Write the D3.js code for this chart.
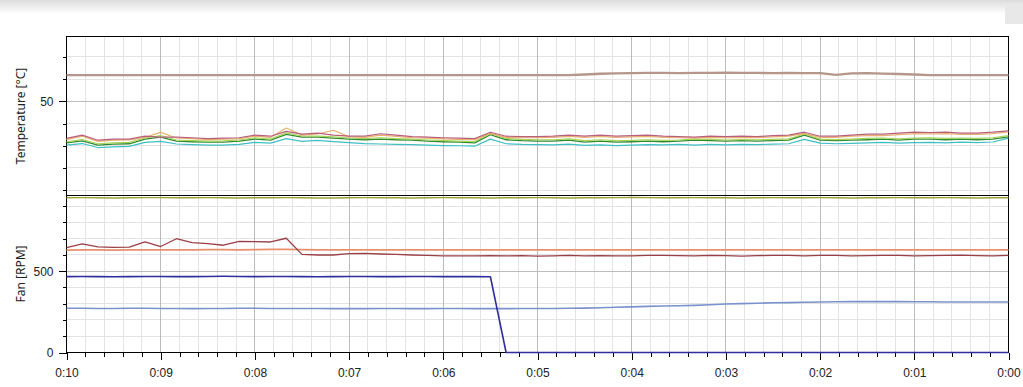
<!DOCTYPE html>
<html lang="en">
<head>
<meta charset="UTF-8">
<title>Temperature / Fan</title>
<script src="https://cdn.jsdelivr.net/npm/d3@7"></script>
<style>
    body { margin: 0; background: #fff; }
    svg { display: block; font-family: "Noto Sans", "DejaVu Sans", sans-serif; }
    .grid line { stroke: #e3e3e3; shape-rendering: crispEdges; }
    .grid line.major { stroke: #bcbcbc; }
    .tick line { stroke: #000; shape-rendering: crispEdges; }
    .tick text { fill: #222; font-size: 12px; }
    .frame { stroke: #000; fill: none; shape-rendering: crispEdges; }
    .title { fill: #222; font-size: 12px; }
</style>
</head>
<body>
<script>
// sample times, seconds before now (every 10 s over the last 10 minutes)
var secondsAgo = d3.range(600, -10, -10);
var timeLabels = ["0:10", "0:09", "0:08", "0:07", "0:06", "0:05", "0:04", "0:03", "0:02", "0:01", "0:00"];

// temperatures [°C]
var tempBrown = [61.8, 61.8, 61.8, 61.8, 61.8, 61.8, 61.8, 61.8, 61.8, 61.8,
    61.8, 61.8, 61.8, 61.8, 61.8, 61.8, 61.8, 61.8, 61.8, 61.8,
    61.8, 61.8, 61.8, 61.8, 61.8, 61.8, 61.8, 61.8, 61.8, 61.8,
    61.8, 61.8, 61.8, 62.1, 62.4, 62.6, 62.7, 62.8, 62.8, 62.7,
    62.8, 62.8, 62.9, 62.8, 62.8, 62.7, 62.8, 62.7, 62.7, 61.9,
    62.6, 62.7, 62.5, 62.3, 62.1, 61.8, 61.8, 61.8, 61.8, 61.8, 61.8];
var tempPink = [33.3, 34.8, 32.5, 33.0, 33.0, 34.3, 33.9, 33.9, 33.6, 33.2,
    33.4, 33.6, 34.8, 34.3, 36.5, 35.2, 35.7, 34.8, 34.3, 34.3,
    35.4, 34.8, 34.1, 33.9, 33.6, 33.4, 33.2, 36.1, 34.3, 34.1,
    34.1, 34.3, 34.8, 34.3, 34.8, 34.3, 34.6, 34.8, 34.3, 34.1,
    33.9, 34.3, 34.1, 34.3, 34.1, 34.6, 34.8, 36.1, 34.3, 34.3,
    34.8, 35.2, 35.2, 35.7, 36.1, 35.9, 36.1, 35.7, 35.7, 36.1, 36.7];
var tempOrange = [32.8, 34.3, 32.0, 32.5, 32.6, 33.8, 36.0, 33.5, 33.2, 32.8,
    33.0, 33.2, 34.3, 33.8, 38.0, 34.8, 35.3, 37.0, 34.0, 33.8,
    34.8, 34.2, 33.6, 33.4, 33.1, 32.9, 32.7, 35.6, 33.8, 33.6,
    33.6, 33.8, 34.2, 33.8, 34.2, 33.8, 34.0, 34.2, 33.8, 33.6,
    33.4, 33.8, 33.6, 33.8, 33.6, 34.0, 34.3, 35.6, 33.8, 33.8,
    34.3, 34.6, 34.6, 35.0, 35.5, 35.3, 35.5, 35.1, 35.1, 35.5, 36.2];
var tempLime = [31.8, 32.8, 30.9, 31.3, 31.5, 33.5, 34.6, 32.6, 32.3, 32.1,
    32.2, 32.6, 33.6, 33.0, 35.8, 34.4, 34.3, 34.0, 33.5, 33.2,
    33.6, 33.2, 33.0, 32.6, 32.3, 32.1, 31.9, 35.4, 33.3, 32.9,
    32.7, 32.7, 33.1, 32.3, 32.7, 32.3, 32.4, 32.7, 32.4, 32.6,
    33.0, 32.9, 32.6, 32.8, 32.7, 32.9, 33.1, 35.3, 33.0, 32.8,
    33.0, 33.3, 33.5, 33.1, 33.5, 33.6, 33.3, 33.5, 33.3, 33.6, 34.6];
var tempGreen = [31.3, 32.2, 30.3, 30.7, 30.9, 33.0, 33.9, 32.1, 31.8, 31.6,
    31.6, 32.1, 33.0, 32.5, 35.1, 33.9, 33.9, 33.4, 33.0, 32.7,
    33.0, 32.7, 32.5, 32.1, 31.8, 31.6, 31.3, 35.0, 32.7, 32.3,
    32.1, 32.1, 32.5, 31.6, 32.1, 31.6, 31.8, 32.1, 31.8, 32.1,
    32.5, 32.3, 32.1, 32.3, 32.1, 32.3, 32.5, 34.8, 32.5, 32.3,
    32.5, 32.7, 33.0, 32.5, 33.0, 33.0, 32.7, 33.0, 32.7, 33.0, 34.0];
var tempTeal = [30.3, 31.0, 29.2, 29.5, 29.7, 31.5, 32.0, 30.8, 30.5, 30.3,
    30.3, 30.6, 31.5, 31.2, 33.2, 32.0, 32.4, 31.9, 31.4, 31.0,
    30.8, 30.6, 30.5, 30.3, 30.1, 30.0, 29.8, 33.0, 30.9, 30.6,
    30.5, 30.4, 30.7, 30.2, 30.4, 30.1, 30.3, 30.5, 30.4, 30.6,
    30.3, 30.6, 30.4, 30.6, 30.5, 30.7, 30.9, 32.9, 31.2, 30.9,
    31.1, 31.3, 31.5, 31.2, 31.4, 31.5, 31.3, 31.6, 31.4, 31.7, 33.4];

// fans [RPM]
var fanOlive = [952, 953, 952, 951, 952, 953, 953, 952, 952, 953,
    952, 951, 952, 952, 953, 952, 951, 951, 952, 953,
    952, 952, 951, 952, 953, 952, 952, 951, 952, 952,
    953, 952, 951, 952, 952, 953, 954, 953, 952, 952,
    953, 952, 952, 951, 952, 953, 952, 952, 953, 952,
    951, 952, 952, 953, 952, 952, 953, 952, 951, 952, 952];
var fanOrange = [630, 631, 631, 630, 631, 632, 632, 631, 632, 633,
    633, 632, 633, 634, 634, 633, 632, 632, 632, 631,
    632, 632, 631, 631, 632, 631, 632, 632, 631, 631,
    632, 632, 631, 632, 632, 631, 632, 632, 631, 631,
    632, 632, 631, 632, 632, 631, 632, 631, 631, 632,
    632, 631, 631, 632, 632, 631, 632, 631, 632, 631, 631];
var fanMaroon = [645, 668, 650, 647, 648, 680, 652, 700, 676, 670,
    660, 684, 682, 680, 703, 604, 600, 600, 608, 610,
    606, 604, 600, 597, 595, 594, 595, 596, 594, 596,
    593, 595, 597, 594, 596, 595, 594, 597, 598, 596,
    595, 598, 596, 593, 596, 598, 597, 595, 598, 597,
    594, 596, 598, 597, 594, 596, 598, 599, 596, 595, 597];
var fanNavy = [467, 468, 467, 466, 467, 468, 468, 467, 467, 468,
    469, 468, 467, 468, 468, 467, 466, 467, 468, 468,
    467, 467, 468, 468, 467, 467, 468, 466, 0, 0,
    0, 0, 0, 0, 0, 0, 0, 0, 0, 0,
    0, 0, 0, 0, 0, 0, 0, 0, 0, 0,
    0, 0, 0, 0, 0, 0, 0, 0, 0, 0, 0];
var fanSteel = [272, 272, 271, 271, 272, 272, 271, 271, 270, 271,
    271, 272, 272, 271, 271, 271, 271, 270, 270, 270,
    271, 271, 270, 270, 271, 271, 270, 270, 270, 271,
    271, 271, 272, 273, 275, 278, 281, 284, 286, 288,
    290, 294, 298, 301, 303, 306, 307, 309, 311, 312,
    313, 313, 313, 313, 312, 312, 311, 311, 311, 311, 311];

var width = 1023;
var height = 387;
var left = 66.5, right = 1008.5;
var topY = 36.5, midY = 195.5, bottomY = 352.5;

var svg = d3.select("body").append("svg")
    .attr("width", width)
    .attr("height", height);

// window shadow strip at the top
var grad = svg.append("defs").append("linearGradient")
    .attr("id", "shade").attr("x1", 0).attr("y1", 0).attr("x2", 0).attr("y2", 1);
grad.append("stop").attr("offset", 0).attr("stop-color", "#dcdcdc");
grad.append("stop").attr("offset", 1).attr("stop-color", "#ffffff");
svg.append("rect").attr("x", 0).attr("y", 0).attr("width", width).attr("height", 14)
    .attr("fill", "url(#shade)");
svg.append("rect").attr("x", 1005).attr("y", 5).attr("width", 18).attr("height", 19)
    .attr("fill", "#e8e8e8");

var x = d3.scaleLinear().domain([600, 0]).range([left, right]);
var yTemp = d3.scaleLinear().domain([7.6, 79.2]).range([midY, topY]);
var yFan = d3.scaleLinear().domain([0, 966]).range([bottomY, midY]);

var xMinor = d3.range(0, 601, 12);
var xMajor = d3.range(0, 601, 60);
var tempMinor = [10, 20, 30, 40, 60, 70];
var fanMinor = [100, 200, 300, 400, 600, 700, 800, 900];

// grid
var grid = svg.append("g").attr("class", "grid");
grid.selectAll(".vx").data(xMinor).enter().append("line")
    .attr("class", function (d) { return d % 60 === 0 ? "major" : "minor"; })
    .attr("x1", function (d) { return Math.round(x(d) - 0.5) + 0.5; })
    .attr("x2", function (d) { return Math.round(x(d) - 0.5) + 0.5; })
    .attr("y1", topY).attr("y2", bottomY);
grid.selectAll(".ht").data(tempMinor.concat([50])).enter().append("line")
    .attr("class", function (d) { return d === 50 ? "major" : "minor"; })
    .attr("x1", left).attr("x2", right)
    .attr("y1", function (d) { return Math.round(yTemp(d) - 0.5) + 0.5; })
    .attr("y2", function (d) { return Math.round(yTemp(d) - 0.5) + 0.5; });
grid.selectAll(".hf").data(fanMinor.concat([500])).enter().append("line")
    .attr("class", function (d) { return d === 500 ? "major" : "minor"; })
    .attr("x1", left).attr("x2", right)
    .attr("y1", function (d) { return Math.round(yFan(d) - 0.5) + 0.5; })
    .attr("y2", function (d) { return Math.round(yFan(d) - 0.5) + 0.5; });
grid.selectAll("line.major").raise();

// axes
function noDomain(g) { g.select(".domain").remove(); }
svg.append("g").attr("transform", "translate(" + left + ",0)")
    .call(d3.axisLeft(yTemp).tickValues(tempMinor).tickSize(4).tickFormat("")).call(noDomain);
svg.append("g").attr("transform", "translate(" + left + ",0)")
    .call(d3.axisLeft(yTemp).tickValues([50]).tickSize(8).tickPadding(5)).call(noDomain);
svg.append("g").attr("transform", "translate(" + left + ",0)")
    .call(d3.axisLeft(yFan).tickValues(fanMinor).tickSize(4).tickFormat("")).call(noDomain);
svg.append("g").attr("transform", "translate(" + left + ",0)")
    .call(d3.axisLeft(yFan).tickValues([0, 500]).tickSize(8).tickPadding(5)).call(noDomain);
svg.append("g").attr("transform", "translate(0," + bottomY + ")")
    .call(d3.axisBottom(x).tickValues(xMinor).tickSize(4).tickFormat("")).call(noDomain);
svg.append("g").attr("transform", "translate(0," + bottomY + ")")
    .call(d3.axisBottom(x).tickValues(xMajor).tickSize(7).tickPadding(9)
        .tickFormat(function (d) { return timeLabels[10 - d / 60]; })).call(noDomain);

// frame
svg.append("rect").attr("class", "frame")
    .attr("x", left).attr("y", topY).attr("width", right - left).attr("height", bottomY - topY);
svg.append("line").attr("class", "frame")
    .attr("x1", left).attr("x2", right).attr("y1", midY).attr("y2", midY);

// titles
svg.append("text").attr("class", "title")
    .attr("transform", "translate(25," + ((topY + midY) / 2) + ") rotate(-90)")
    .attr("text-anchor", "middle").text("Temperature [°C]");
svg.append("text").attr("class", "title")
    .attr("transform", "translate(25," + ((midY + bottomY) / 2) + ") rotate(-90)")
    .attr("text-anchor", "middle").text("Fan [RPM]");

// series
var tempSeries = [
    {values: tempBrown, color: "#b4978a", w: 2.4},
    {values: tempTeal, color: "#3fbfc4", w: 1.2},
    {values: tempGreen, color: "#2f8a34", w: 1.3},
    {values: tempLime, color: "#a8d458", w: 1.2},
    {values: tempOrange, color: "#e8b070", w: 1.2},
    {values: tempPink, color: "#b8607a", w: 1.2}
];
var fanSeries = [
    {values: fanOlive, color: "#9ea238", w: 1.4},
    {values: fanOrange, color: "#e8906c", w: 1.8},
    {values: fanMaroon, color: "#9a3f46", w: 1.3},
    {values: fanSteel, color: "#7a92cc", w: 1.6},
    {values: fanNavy, color: "#2e2e9e", w: 1.6}
];

function drawSeries(list, yScale) {
    list.forEach(function (s) {
        var line = d3.line()
            .x(function (d, i) { return x(secondsAgo[i]); })
            .y(function (d) { return yScale(d); });
        svg.append("path")
            .datum(s.values)
            .attr("fill", "none")
            .attr("stroke", s.color)
            .attr("stroke-width", s.w)
            .attr("stroke-linejoin", "round")
            .attr("d", line);
    });
}
drawSeries(tempSeries, yTemp);
drawSeries(fanSeries, yFan);
</script>
</body>
</html>
